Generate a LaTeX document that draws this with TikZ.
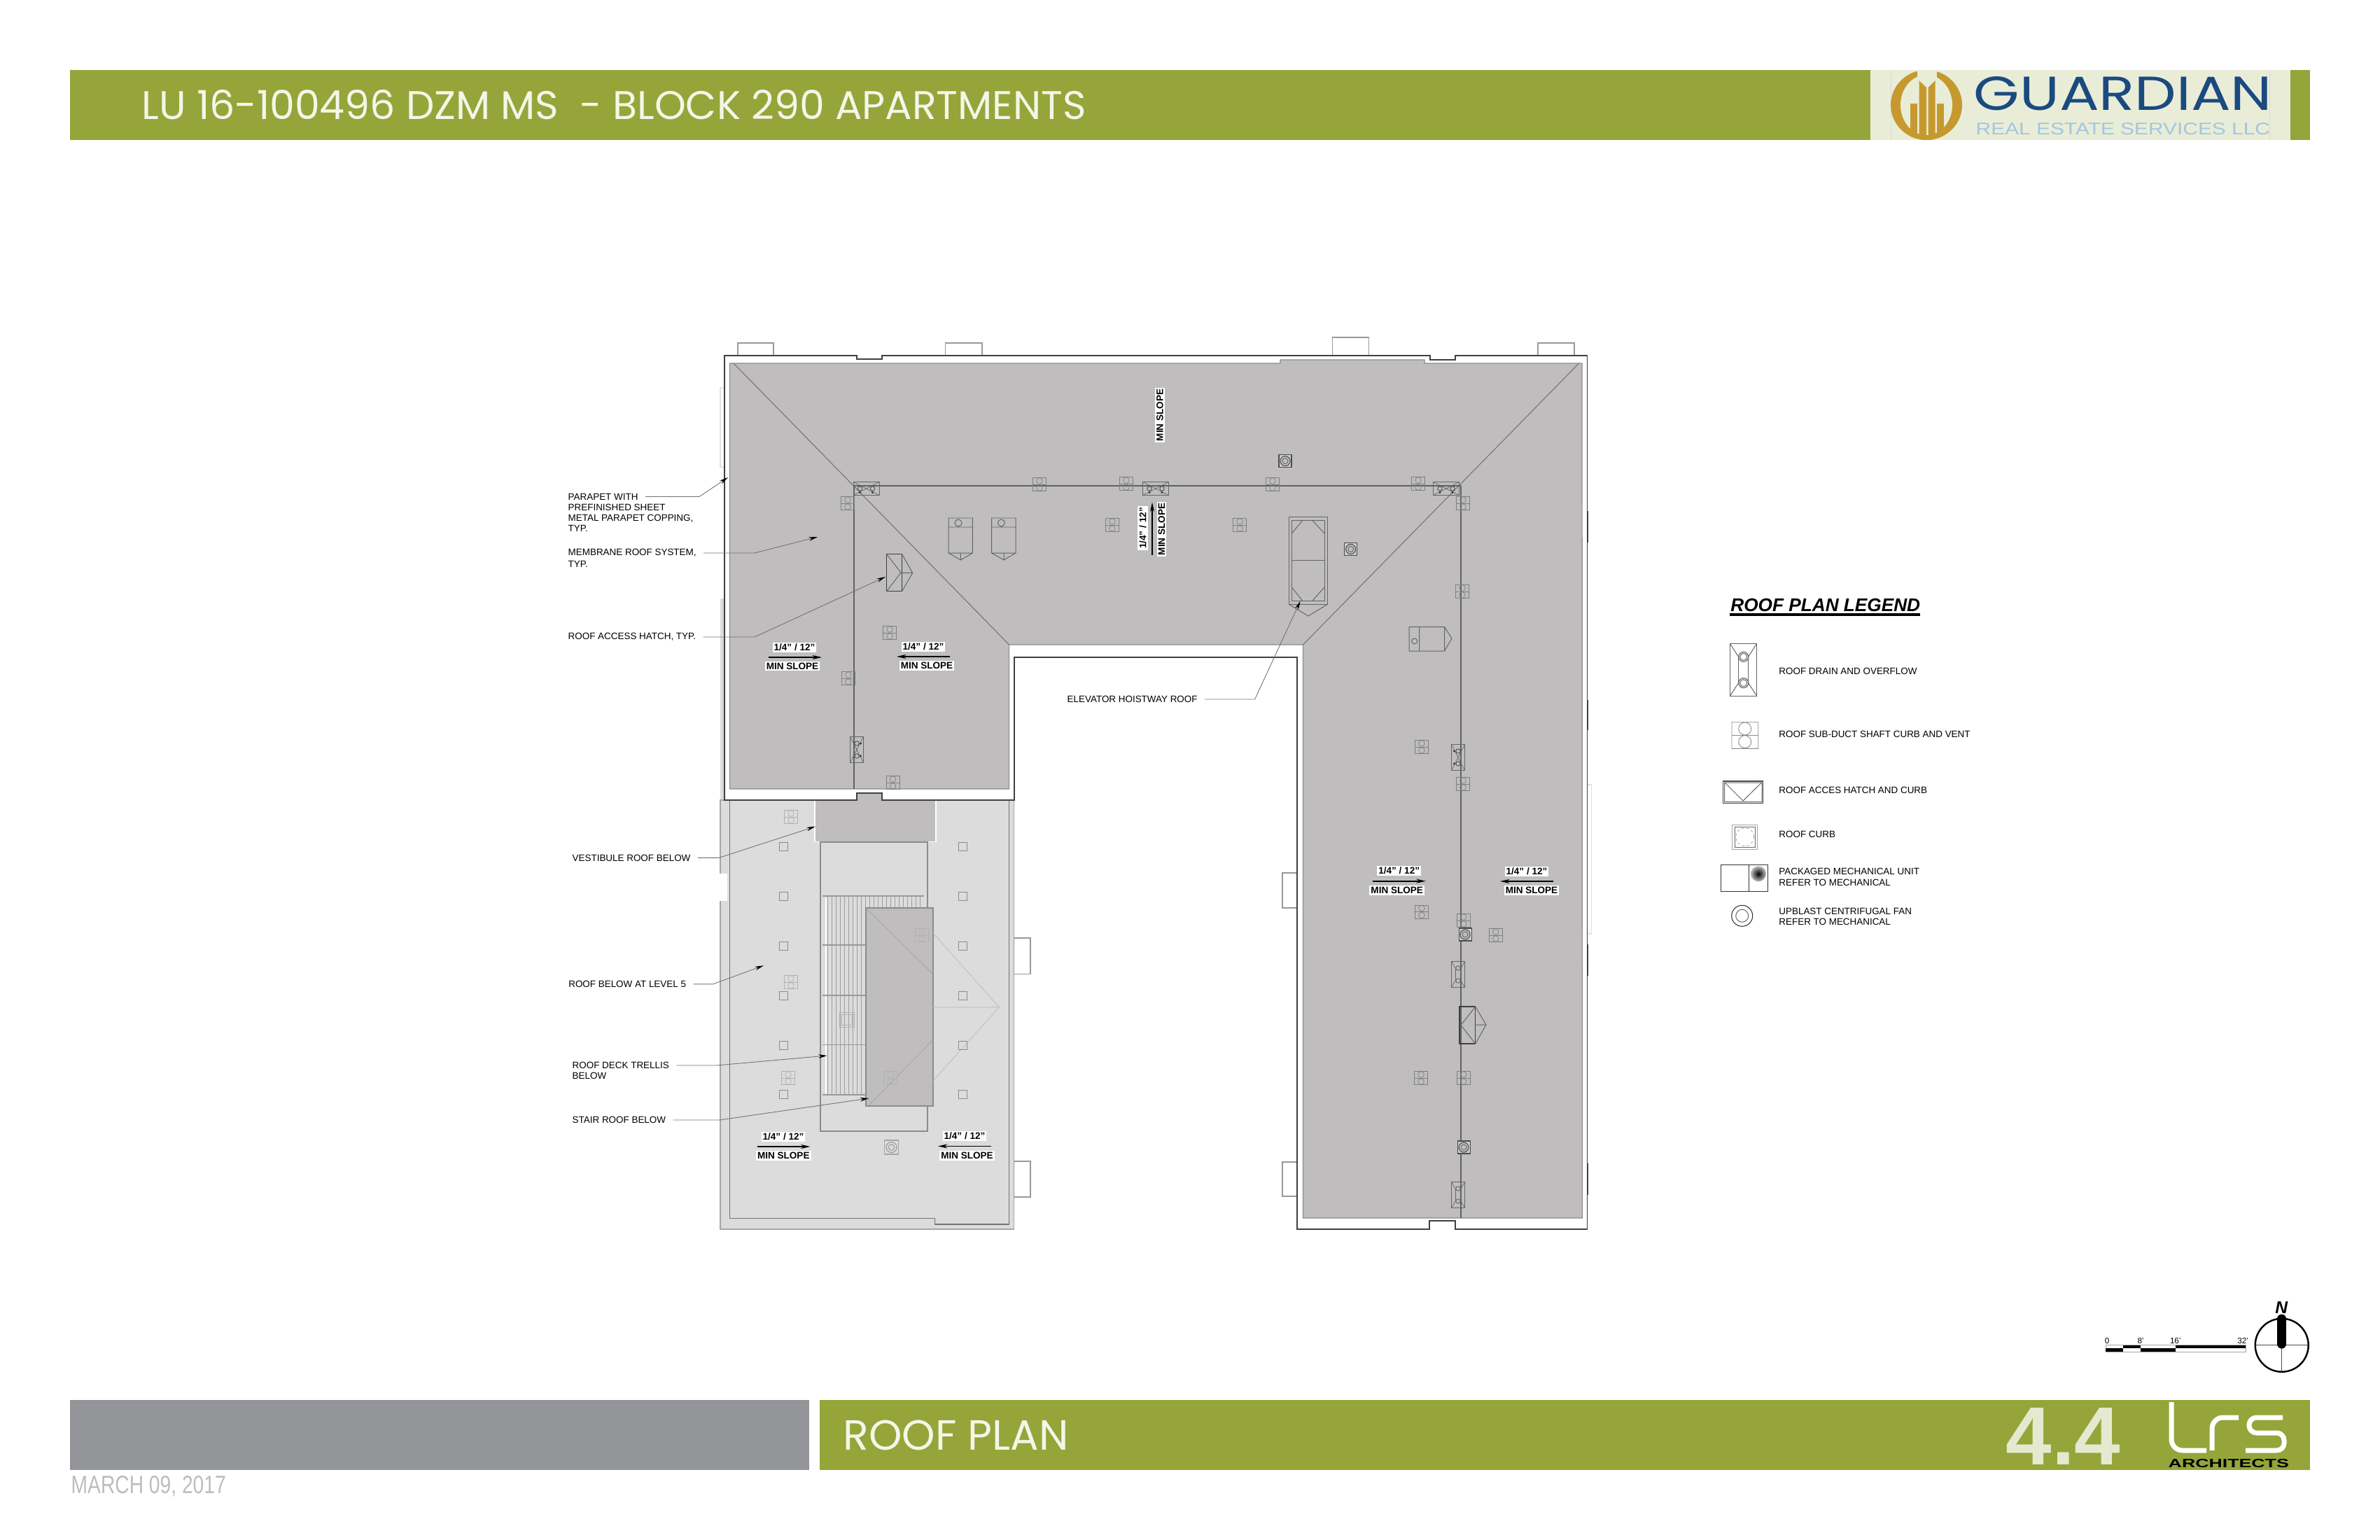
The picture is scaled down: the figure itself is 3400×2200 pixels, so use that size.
\documentclass[tikz,border=0pt]{standalone}
\usepackage{fontspec}
\setmainfont{Liberation Sans}
\newfontfamily\bandfont{Poppins}
\usetikzlibrary{arrows.meta}

\definecolor{bandgreen}{HTML}{95A53A}
\definecolor{bandgrey}{HTML}{939598}
\definecolor{logopale}{HTML}{E9EDD8}
\definecolor{logogold}{HTML}{C6992F}
\definecolor{logoblue}{HTML}{1A4A7F}
\definecolor{logosky}{HTML}{A3C6E0}
\definecolor{roofgrey}{HTML}{BFBDBE}
\definecolor{lowgrey}{HTML}{DCDCDC}
\definecolor{bandtext}{HTML}{F4F6E8}
\definecolor{bignum}{HTML}{E5E9CF}
\definecolor{dategrey}{HTML}{BDBDBD}

\tikzset{
  x=0.01cm, y=-0.01cm,
  notelabel/.style={anchor=west, inner sep=0pt, align=left, font=\fontsize{3.82pt}{4.35pt}\selectfont},
  slopetxt/.style={fill=white, inner sep=0.6pt, font=\bfseries\fontsize{3.85pt}{5pt}\selectfont},
  leader/.style={draw=black!55, line width=0.25pt, -{Stealth[length=3.6pt,width=1.6pt,black]}, shorten <=2.8pt},
  slopearrow/.style={draw=black, line width=0.5pt, -{Stealth[length=3.8pt,width=1.7pt]}},
  roofline/.style={draw=black!55, line width=0.3pt},
  ridge/.style={draw=black!62, line width=0.38pt},
  unitline/.style={draw=black!60, line width=0.28pt},
  tabbox/.style={draw=black!40, line width=0.45pt, fill=white},
  vent/.pic={
    \draw[draw=black!50, line width=0.25pt] (-9.5,-9.5) rectangle (9.5,9.5) (-9.5,0) -- (9.5,0);
    \draw[draw=black!50, line width=0.2pt] (0,-5) circle [radius=4.3] (0,5) circle [radius=4.3];
  },
  ventlow/.pic={
    \draw[draw=black!30, line width=0.25pt] (-9.5,-9.5) rectangle (9.5,9.5) (-9.5,0) -- (9.5,0);
    \draw[draw=black!30, line width=0.2pt] (0,-5) circle [radius=4.3] (0,5) circle [radius=4.3];
  },
  curbbox/.pic={
    \draw[draw=black!45, line width=0.25pt] (-6,-6) rectangle (6,6);
  },
  fanbox/.pic={
    \draw[draw=black!70, line width=0.3pt, fill=black!20] (-9,-9) rectangle (9,9);
    \draw[draw=black!70, line width=0.3pt, fill=roofgrey] (0,0) circle [radius=7];
    \draw[draw=black!60, line width=0.25pt] (0,0) circle [radius=4];
  },
  drainbox/.pic={
    \draw[draw=black!60, line width=0.25pt] (-18.5,-9.5) rectangle (18.5,9.5);
    \draw[draw=black!60, line width=0.2pt] (-18.5,-9.5) -- (-9,-4) (18.5,-9.5) -- (9,-4) (-18.5,9.5) -- (-9,4) (18.5,9.5) -- (9,4);
    \draw[draw=black!60, line width=0.2pt] (-9,-4) -- (9,-4) (-9,4) -- (9,4);
    \draw[draw=black!60, line width=0.25pt] (-9,0) circle [radius=3.2] (9,0) circle [radius=3.2];
  },
  drainmark/.pic={
    \draw[draw=black!60, line width=0.25pt] (-18.5,-9.5) rectangle (18.5,9.5);
    \draw[draw=black!60, line width=0.2pt] (-18.5,-9.5) -- (18.5,9.5) (18.5,-9.5) -- (-18.5,9.5);
    \draw[draw=black!70, line width=0.25pt] (-9,0) circle [radius=3.2] (9,0) circle [radius=3.2];
    \fill[black!80] (-9,5.5) circle [radius=1.6] (9,5.5) circle [radius=1.6];
  },
}

\begin{document}
\begin{tikzpicture}
  \useasboundingbox (0,0) rectangle (3400,2200);
  \fill[white] (0,0) rectangle (3400,2200);

  % bands
  \fill[bandgreen] (100,100) rectangle (3300,200);
  \fill[logopale] (2672,100) rectangle (3272,200);
  \fill[bandgrey] (100,2000) rectangle (1156,2100);
  \fill[bandgreen] (1171,2000) rectangle (3300,2100);
  \node[anchor=west, inner sep=0pt, text=bandtext] (titleText) at (202,150) {\resizebox{13.48cm}{!}{\bandfont LU 16-100496 DZM MS \ - BLOCK 290 APARTMENTS}};
  \node[anchor=west, inner sep=0pt, text=bandtext] (sheetName) at (1204,2050) {\resizebox{3.22cm}{!}{\bandfont ROOF PLAN}};
  \node[anchor=east, inner sep=0pt, text=bignum, font=\bfseries\fontsize{33.5pt}{36pt}\selectfont] (sheetNumber) at (3030,2052) {4.4};
  \node[anchor=base west, inner sep=0pt, text=dategrey] (dateText) at (101,2133) {\resizebox{2.21cm}{0.25cm}{MARCH 09, 2017}};

  % guardian logo
  \draw[black!15, line width=0.2pt] (2701,100) -- (2701,200) (3242,100) -- (3242,200);
  \fill[logogold] (2752,150) ellipse [x radius=51, y radius=50];
  \fill[logopale] (2752,150) ellipse [x radius=37, y radius=43];
  \fill[logopale] (2739,100) rectangle (2767,125);
  \begin{scope}
    \clip (2752,150) ellipse [x radius=51, y radius=50];
    \fill[logogold] (2741.5,115) -- (2752,125) -- (2752,200) -- (2741.5,200) -- cycle;
    \fill[logogold] (2754.5,125) -- (2764.5,115) -- (2764.5,200) -- (2754.5,200) -- cycle;
    \fill[logogold] (2728.5,148) rectangle (2738.8,200);
    \fill[logogold] (2767,148) rectangle (2777,200);
  \end{scope}
  \node[anchor=west, inner sep=0pt, text=logoblue] (logoName) at (2819,134) {\resizebox{4.26cm}{0.48cm}{\bandfont GUARDIAN}};
  \node[anchor=west, inner sep=0pt, text=logosky] (logoSub) at (2822,184.5) {\resizebox{4.2cm}{0.17cm}{REAL ESTATE SERVICES LLC}};

  % lrs logo
  \draw[white, line width=2pt, rounded corners=4.5pt] (3102,2003) -- (3102,2072) -- (3152,2072);
  \draw[white, line width=2pt, rounded corners=4.5pt] (3160,2072) -- (3160,2025) -- (3198,2025);
  \draw[white, line width=2pt, rounded corners=3pt] (3261,2025) -- (3213,2025) -- (3213,2047) -- (3263,2047) -- (3263,2072) -- (3208,2072);
  \node[anchor=west, inner sep=0pt] (lrsName) at (3097,2091) {\resizebox{1.72cm}{0.12cm}{\bfseries ARCHITECTS}};

  % lower roof
  \fill[lowgrey] (1029,855) rectangle (1036,1143);
  \filldraw[fill=lowgrey, draw=black!35, line width=0.4pt] (1029,1143) rectangle (1448.5,1756);
  \draw[roofline] (1042.6,1143) -- (1042.6,1740.6) -- (1335.6,1740.6) -- (1335.6,1749) -- (1441.6,1749) -- (1441.6,1143);
  \filldraw[draw=white, line width=0.5pt, fill=roofgrey] (1164,1125) rectangle (1337,1202.5);
  \draw[draw=black!45, line width=0.7pt] (1172,1203) rectangle (1325,1616);

  % trellis
  \foreach \hatchx in {1182,1188,...,1318}
    \draw[draw=black!38, line width=0.2pt] (\hatchx,1280) -- (\hatchx,1564);
  \draw[white, line width=0.7pt] (1180,1283) -- (1180,1562);
  \draw[draw=black!40, line width=0.4pt] (1175,1280) -- (1319.5,1280) (1175,1350) -- (1237,1350) (1175,1422) -- (1237,1422) (1175,1492.5) -- (1237,1492.5) (1175,1564) -- (1237,1564);

  % stair roof
  \filldraw[draw=white, line width=0.5pt, fill=roofgrey] (1237,1297) rectangle (1333,1580);
  \draw[draw=black!45, line width=0.3pt] (1237,1297) rectangle (1333,1580);
  \draw[draw=black!35, line width=0.25pt] (1238,1298) -- (1332.6,1391.5) (1240.5,1580) -- (1332.6,1485.5);
  \draw[draw=black!25, line width=0.25pt] (1333,1333) -- (1427.4,1438.8) -- (1333,1544) (1333,1438.8) -- (1427.4,1438.8);

  \pic at (1119.3,1209) {curbbox};
  \pic at (1119.3,1280.5) {curbbox};
  \pic at (1119.3,1351) {curbbox};
  \pic at (1119.3,1422) {curbbox};
  \pic at (1119.3,1493) {curbbox};
  \pic at (1119.3,1563.6) {curbbox};
  \pic at (1375.5,1209) {curbbox};
  \pic at (1375.5,1280.5) {curbbox};
  \pic at (1375.5,1351) {curbbox};
  \pic at (1375.5,1422) {curbbox};
  \pic at (1375.5,1493) {curbbox};
  \pic at (1375.5,1563.6) {curbbox};
  \pic at (1130,1167) {ventlow};
  \pic at (1130,1403) {ventlow};
  \pic at (1126,1540) {ventlow};
  \pic at (1317,1336) {ventlow};
  \pic at (1272,1540) {ventlow};
  \draw[draw=black!30, line width=0.25pt] (1199.5,1446.5) rectangle (1220.5,1467.5) (1202.5,1449.5) rectangle (1217.5,1464.5);
  \draw[draw=black!35, line width=0.3pt, fill=lowgrey] (1263.5,1629) rectangle (1283.5,1649);
  \draw[draw=black!40, line width=0.3pt] (1273.5,1639) circle [radius=7.5] (1273.5,1639) circle [radius=4.2];

  % tabs
  \filldraw[white] (1029,1249) rectangle (1038.5,1286);
  \draw[tabbox] (1448.5,1340) rectangle (1472,1391.5);
  \draw[tabbox] (1448.5,1659) rectangle (1472,1710);
  \draw[tabbox] (1832,1247) rectangle (1853,1297);
  \draw[tabbox] (1832,1660) rectangle (1853,1709);
  \draw[tabbox] (1054,508) -- (1054,490) -- (1105,490) -- (1105,508);
  \draw[tabbox] (1350.5,508) -- (1350.5,490) -- (1403,490) -- (1403,508);
  \draw[tabbox] (1903.6,508) -- (1903.6,482) -- (1955.6,482) -- (1955.6,508);
  \draw[tabbox] (2197,508) -- (2197,490) -- (2249,490) -- (2249,508);
  \draw[draw=black!12, line width=0.3pt] (1035,554) -- (1029,554) -- (1029,667) -- (1035,667);
  \draw[draw=black!12, line width=0.3pt] (2268,1121) -- (2273,1121) -- (2273,1334) -- (2268,1334);

  % parapet and main roof
  \filldraw[fill=white, draw=black!75, line width=0.55pt] (1035.4,507.7) -- (1224,507.7) -- (1224,513) -- (1260,513) -- (1260,507.7) -- (2043,507.7) -- (2043,514) -- (2079,514) -- (2079,507.7) -- (2267.5,507.7) -- (2267.5,1756) -- (2079,1756) -- (2079,1744) -- (2042,1744) -- (2042,1756) -- (1853,1756) -- (1853,939) -- (1449,939) -- (1449,1143) -- (1260,1143) -- (1260,1133) -- (1224,1133) -- (1224,1143) -- (1035.4,1143) -- cycle;
  \filldraw[fill=roofgrey, draw=black!45, line width=0.35pt] (1042.5,519) -- (1829,519) -- (1829,514) -- (2035,514) -- (2035,519) -- (2260,519) -- (2260.5,1740) -- (1861.5,1740) -- (1861.5,921) -- (1441.6,921) -- (1441.6,1127) -- (1042.5,1127) -- cycle;
  \draw[black!75, line width=0.5pt] (1034.5,806) -- (1034.5,850) (2268.5,730) -- (2268.5,775) (2268.5,1000) -- (2268.5,1043) (2268.5,1349) -- (2268.5,1394) (2268.5,1662) -- (2268.5,1707);

  % hips and ridges
  \draw[roofline] (1048,519) -- (1441.6,921);
  \draw[roofline] (2255.6,519) -- (1861.5,921);
  \draw[ridge] (1220,694) -- (2087,694);
  \draw[ridge] (1220,694) -- (1220,1127);
  \draw[ridge] (2087,694) -- (2087,1740);

  % drains
  \pic at (1237.5,698) {drainmark};
  \pic at (1651,698) {drainmark};
  \pic at (2066,698) {drainmark};
  \pic[rotate=90] at (1224,1071) {drainmark};
  \pic[rotate=-90] at (2083,1082) {drainmark};
  \pic[rotate=90] at (2083,1392) {drainbox};
  \pic[rotate=90] at (2083,1707) {drainbox};

  % vents
  \pic at (1211,719) {vent};
  \pic at (1271,904) {vent};
  \pic at (1212,969) {vent};
  \pic at (1275.5,1118) {vent};
  \pic at (1485,692) {vent};
  \pic at (1609,691) {vent};
  \pic at (1818,692) {vent};
  \pic at (2026,691) {vent};
  \pic at (2090,719) {vent};
  \pic at (1589,750) {vent};
  \pic at (1771,750) {vent};
  \pic at (2089,845) {vent};
  \pic at (2031,1067) {vent};
  \pic at (2090,1120) {vent};
  \pic at (2031,1302.5) {vent};
  \pic at (2090.7,1315) {vent};
  \pic at (2136.7,1336) {vent};
  \pic at (2030,1540) {vent};
  \pic at (2090.7,1540) {vent};

  % fans
  \pic at (1836,658.6) {fanbox};
  \pic at (1929.6,784.5) {fanbox};
  \pic at (2093,1335) {fanbox};
  \pic at (2091,1639) {fanbox};

  % mechanical units
  \draw[unitline] (1355,740) rectangle (1389.4,790) (1355,753) -- (1389.4,753) (1369,747) circle [radius=5] (1355,790) -- (1372.4,800) -- (1389.4,790) (1372.4,790) -- (1372.4,800);
  \draw[unitline] (1416.6,740) rectangle (1451,790) (1416.6,753) -- (1451,753) (1430.4,747) circle [radius=5] (1416.6,790) -- (1434,800) -- (1451,790) (1434,790) -- (1434,800);
  \draw[unitline] (2013,895.6) rectangle (2063.5,930) (2027.6,895.6) -- (2027.6,930) (2020.6,916) circle [radius=4] (2063.5,895.6) -- (2074,912) -- (2063.5,930);

  % hatches
  \draw[draw=black!75, line width=0.42pt] (1266.6,791.6) rectangle (1288.5,844.7);
  \draw[unitline] (1266.6,791.6) -- (1287,818) -- (1266.6,844.7) (1288.5,791.6) -- (1303.7,818.4) -- (1288.5,844.7) (1287,818.4) -- (1303.7,818.4);
  \draw[draw=black!75, line width=0.42pt] (2085,1438) rectangle (2107.7,1491);
  \draw[unitline] (2107.7,1438) -- (2087,1464.5) -- (2107.7,1491) (2107.7,1438) -- (2123,1464) -- (2107.7,1491) (2107.7,1464) -- (2123,1464);

  % elevator hoistway
  \draw[unitline] (1841.6,738.5) rectangle (1896,863.5) (1845.4,743) rectangle (1892,858.6) (1845.4,800) -- (1892,800);
  \draw[unitline] (1845.4,762) -- (1861,743) (1892,762) -- (1874.5,743) (1845.4,839) -- (1861,858.6) (1892,839) -- (1874.5,858.6);
  \draw[unitline] (1841.6,863.5) -- (1869,880) -- (1896,863.5);

  % notes
  \node[notelabel] (noteParapet) at (811,709.5) {PARAPET WITH};
  \node[notelabel, anchor=north west] (noteParapetMore) at (811,719) {PREFINISHED SHEET\\METAL PARAPET COPPING,\\TYP.};
  \node[notelabel] (noteMembrane) at (811,790) {MEMBRANE ROOF SYSTEM,};
  \node[notelabel] (noteMembraneMore) at (811,805.5) {TYP.};
  \node[notelabel] (noteHatch) at (811,910) {ROOF ACCESS HATCH, TYP.};
  \node[notelabel] (noteElevator) at (1524,999) {ELEVATOR HOISTWAY ROOF};
  \node[notelabel] (noteVestibule) at (817,1225.4) {VESTIBULE ROOF BELOW};
  \node[notelabel] (noteLevel) at (811.6,1405.8) {ROOF BELOW AT LEVEL 5};
  \node[notelabel] (noteTrellis) at (817,1522) {ROOF DECK TRELLIS};
  \node[notelabel] (noteTrellisMore) at (817,1537) {BELOW};
  \node[notelabel] (noteStair) at (817,1600) {STAIR ROOF BELOW};

  \coordinate (bendParapet) at (999,709.5);
  \coordinate (tipParapet) at (1040,682);
  \coordinate (bendMembrane) at (1078,790);
  \coordinate (tipMembrane) at (1168,767);
  \coordinate (bendHatch) at (1078,910);
  \coordinate (tipHatch) at (1265,824);
  \coordinate (bendElevator) at (1792.6,999);
  \coordinate (tipElevator) at (1857.6,858.6);
  \coordinate (bendVestibule) at (1027,1225.4);
  \coordinate (tipVestibule) at (1164.8,1180.7);
  \coordinate (bendLevel) at (1018.8,1405.8);
  \coordinate (tipLevel) at (1091,1379.3);
  \coordinate (bendTrellis) at (1023.3,1522);
  \coordinate (tipTrellis) at (1181.7,1508);
  \coordinate (bendStair) at (1028,1600);
  \coordinate (tipStair) at (1241.4,1569);

  \draw[leader] (noteParapet) -- (bendParapet) -- (tipParapet);
  \draw[leader] (noteMembrane) -- (bendMembrane) -- (tipMembrane);
  \draw[leader] (noteHatch) -- (bendHatch) -- (tipHatch);
  \draw[leader] (noteElevator) -- (bendElevator) -- (tipElevator);
  \draw[leader] (noteVestibule) -- (bendVestibule) -- (tipVestibule);
  \draw[leader] (noteLevel) -- (bendLevel) -- (tipLevel);
  \draw[leader] (noteTrellis) -- (bendTrellis) -- (tipTrellis);
  \draw[leader] (noteStair) -- (bendStair) -- (tipStair);

  % slopes
  \node[slopetxt] (pitchA) at (1135,925) {1/4" / 12"};
  \node[slopetxt] (minA) at (1132,951.5) {MIN SLOPE};
  \coordinate (fromA) at (1098,939);
  \coordinate (toA) at (1174,939);
  \draw[slopearrow] (fromA) -- (toA);
  \node[slopetxt] (pitchB) at (1319,924) {1/4" / 12"};
  \node[slopetxt] (minB) at (1324,951) {MIN SLOPE};
  \coordinate (fromB) at (1357,938);
  \coordinate (toB) at (1281,938);
  \draw[slopearrow] (fromB) -- (toB);
  \node[slopetxt] (pitchC) at (1119,1624) {1/4" / 12"};
  \node[slopetxt] (minC) at (1119.3,1651) {MIN SLOPE};
  \coordinate (fromC) at (1081.6,1638);
  \coordinate (toC) at (1157.4,1638);
  \draw[slopearrow] (fromC) -- (toC);
  \node[slopetxt] (pitchD) at (1378,1623) {1/4" / 12"};
  \node[slopetxt] (minD) at (1381.5,1651) {MIN SLOPE};
  \coordinate (fromD) at (1416,1637.4);
  \coordinate (toD) at (1340,1637.4);
  \draw[slopearrow] (fromD) -- (toD);
  \node[slopetxt] (pitchE) at (1998.7,1244) {1/4" / 12"};
  \node[slopetxt] (minE) at (1995.7,1272) {MIN SLOPE};
  \coordinate (fromE) at (1960.7,1258.7);
  \coordinate (toE) at (2036.7,1258.7);
  \draw[slopearrow] (fromE) -- (toE);
  \node[slopetxt] (pitchF) at (2181,1245) {1/4" / 12"};
  \node[slopetxt] (minF) at (2188,1272) {MIN SLOPE};
  \coordinate (fromF) at (2219,1259);
  \coordinate (toF) at (2143,1259);
  \draw[slopearrow] (fromF) -- (toF);
  \node[slopetxt, rotate=90] (pitchG) at (1632.6,754.5) {1/4" / 12"};
  \node[slopetxt, rotate=90] (minG) at (1659.4,756) {MIN SLOPE};
  \coordinate (fromG) at (1646,792.5);
  \coordinate (toG) at (1646,717.5);
  \draw[slopearrow] (fromG) -- (toG);
  \node[slopetxt, rotate=90] (minH) at (1657,593) {MIN SLOPE};

  % legend
  \node[anchor=west, inner sep=0pt, font=\bfseries\itshape\fontsize{7.45pt}{8pt}\selectfont] (legendTitle) at (2471.7,864) {ROOF PLAN LEGEND};
  \draw[black, line width=0.9pt] (2471,878) -- (2743,878);
  \node[notelabel] (legendDrain) at (2540.7,959) {ROOF DRAIN AND OVERFLOW};
  \node[notelabel] (legendVent) at (2540.7,1049) {ROOF SUB-DUCT SHAFT CURB AND VENT};
  \node[notelabel] (legendHatch) at (2540.7,1129) {ROOF ACCES HATCH AND CURB};
  \node[notelabel] (legendCurb) at (2540.7,1192) {ROOF CURB};
  \node[notelabel] (legendUnit) at (2540.7,1253) {PACKAGED MECHANICAL UNIT\\REFER TO MECHANICAL};
  \node[notelabel] (legendFan) at (2540.7,1309.5) {UPBLAST CENTRIFUGAL FAN\\REFER TO MECHANICAL};

  \draw[unitline] (2471.3,919.3) rectangle (2509.7,994.3) (2483.3,938) rectangle (2497.7,976);
  \draw[unitline] (2471.3,919.3) -- (2483.3,938) (2509.7,919.3) -- (2497.7,938) (2471.3,994.3) -- (2483.3,976) (2509.7,994.3) -- (2497.7,976);
  \filldraw[fill=white, draw=black!65, line width=0.3pt] (2490.7,938.3) circle [radius=7] (2490.7,975.7) circle [radius=7];
  \draw[unitline] (2490.7,938.3) circle [radius=5] (2490.7,975.7) circle [radius=5];
  \draw[draw=black!45, line width=0.25pt] (2474,1031.7) rectangle (2511.7,1069.3) (2474,1050.5) -- (2511.7,1050.5) (2492.7,1041) circle [radius=9] (2492.7,1059.7) circle [radius=9];
  \draw[draw=black!70, line width=0.4pt] (2461.7,1116) rectangle (2518.7,1147.3);
  \draw[unitline] (2463.5,1118) rectangle (2517,1145.5) (2464,1118) -- (2490,1144) -- (2516.5,1118);
  \draw[draw=black!35, line width=0.4pt] (2474.3,1178.3) rectangle (2510.7,1213.3);
  \draw[unitline] (2478,1181.3) rectangle (2507.7,1210.7);
  \draw[draw=black!40, line width=0.2pt, dash pattern=on 1pt off 1pt] (2492.7,1195.7) circle [radius=13];
  \draw[draw=black!80, line width=0.3pt] (2458.3,1235.7) rectangle (2525.7,1273.3) (2498.3,1235.7) -- (2498.3,1273.3);
  \shade[inner color=black, outer color=black!25] (2512,1248.3) circle [radius=11];
  \draw[draw=black!80, line width=0.3pt] (2488.7,1308.3) circle [radius=15];
  \draw[unitline] (2488.7,1308.3) circle [radius=9];

  % scale bar and north arrow
  \draw[draw=black!35, line width=0.25pt, fill=white] (3008.3,1921.7) rectangle (3208.3,1931);
  \fill[black] (3033.3,1921.7) rectangle (3058.3,1926.3);
  \fill[black] (3108.3,1921.7) rectangle (3208.3,1926.3);
  \fill[black] (3008.3,1926.3) rectangle (3033.3,1931);
  \fill[black] (3058.3,1926.3) rectangle (3108.3,1931);
  \node[font=\fontsize{3.3pt}{4pt}\selectfont, inner sep=0pt] (scaleZero) at (3010,1915) {0};
  \node[font=\fontsize{3.3pt}{4pt}\selectfont, inner sep=0pt] (scaleEight) at (3058,1915) {8'};
  \node[font=\fontsize{3.3pt}{4pt}\selectfont, inner sep=0pt] (scaleSixteen) at (3107.7,1915) {16'};
  \node[font=\fontsize{3.3pt}{4pt}\selectfont, inner sep=0pt] (scaleEnd) at (3204,1915) {32'};
  \draw[black, line width=0.7pt] (3259.7,1921.7) circle [radius=38];
  \draw[black!70, line width=0.25pt] (3221.7,1921.7) -- (3297.7,1921.7) (3259.7,1921.7) -- (3259.7,1959.7);
  \draw[black, line width=3.7pt, line cap=round] (3259.7,1884) -- (3259.7,1920);
  \node[font=\bfseries\itshape\fontsize{7pt}{8pt}\selectfont, inner sep=0pt] (northLetter) at (3259.3,1867.7) {N};
\end{tikzpicture}
\end{document}
